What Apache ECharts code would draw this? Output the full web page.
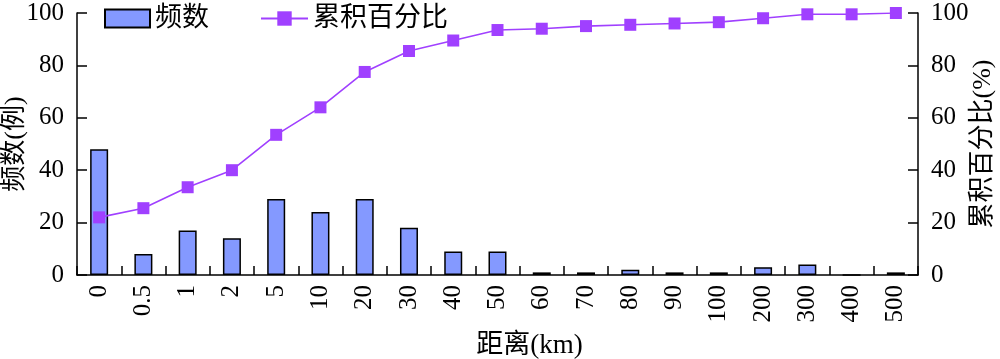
<!DOCTYPE html>
<html>
<head>
<meta charset="utf-8">
<script src="https://cdn.jsdelivr.net/npm/echarts@6/dist/echarts.min.js"></script>
<style>html,body{margin:0;padding:0;background:#fff}#c{width:1000px;height:359px}</style>
</head>
<body>
<div id="c"></div>
<script>
const categories = ['0','0.5','1','2','5','10','20','30','40','50','60','70','80','90','100','200','300','400','500'];
const frequency = [48, 8, 17, 14, 29, 24, 29, 18, 9, 9, 1, 1, 2, 1, 1, 3, 4, 0, 1];
const cumulativePercent = [22, 25.5, 33.5, 40, 53.5, 64, 77.5, 85.5, 89.5, 93.5, 94, 95, 95.5, 96, 96.5, 98, 99.5, 99.5, 100];
const yTicks = [0, 20, 40, 60, 80, 100];

const FONT = "'Liberation Serif', 'Times New Roman', 'Noto Sans CJK SC', serif";
const chart = echarts.init(document.getElementById('c'), null, {renderer: 'canvas'});
const axisCommon = {
  min: yTicks[0], max: yTicks[yTicks.length - 1], interval: yTicks[1] - yTicks[0],
  axisLine: {show: true, lineStyle: {color: '#000', width: 1.5}},
  axisTick: {show: true, inside: true, length: 10, lineStyle: {color: '#000', width: 1.5}},
  splitLine: {show: false},
  axisLabel: {color: '#000', fontSize: 25, fontFamily: FONT, margin: 13},
  nameLocation: 'middle',
  nameMoveOverlap: false,
  nameTextStyle: {color: '#000', fontSize: 26, fontFamily: FONT}
};
const legendText = {color: '#000', fontSize: 27, fontFamily: FONT};
chart.setOption({
  animation: false,
  grid: {left: 77, right: 82, top: 13, bottom: 84, containLabel: false, outerBoundsMode: 'none'},
  legend: [
    {left: 99, top: 0, itemWidth: 45, itemHeight: 18, itemGap: 8, textStyle: legendText,
     data: [{name: '频数', icon: 'rect'}]},
    {left: 255, top: 0, itemWidth: 47, itemHeight: 18, textStyle: legendText,
     data: ['累积百分比']}
  ],
  xAxis: {
    type: 'category', data: categories,
    name: '距离(km)', nameLocation: 'middle', nameGap: 57, nameMoveOverlap: false,
    nameTextStyle: {color: '#000', fontSize: 27, fontFamily: FONT, padding: [0, 0, 0, 64]},
    axisLine: {lineStyle: {color: '#000', width: 1.5}},
    axisTick: {show: true, inside: true, length: 9, alignWithLabel: false, lineStyle: {color: '#000', width: 1.5}},
    axisLabel: {rotate: 90, color: '#000', fontSize: 25, fontFamily: FONT, margin: 10, interval: 0},
    splitLine: {show: false}
  },
  yAxis: [
    Object.assign({}, axisCommon, {type: 'value', position: 'left', name: '频数(例)', nameGap: 49}),
    Object.assign({}, axisCommon, {type: 'value', position: 'right', name: '累积百分比(%)', nameGap: 52, nameRotate: 90})
  ],
  series: [
    {
      name: '频数', type: 'bar', data: frequency, barWidth: 18, yAxisIndex: 0,
      itemStyle: {color: '#8499FF', borderColor: '#000', borderWidth: 1.5}
    },
    {
      name: '累积百分比', type: 'line', data: cumulativePercent, yAxisIndex: 1,
      symbol: 'rect', symbolSize: 12,
      lineStyle: {color: '#A040FF', width: 1.6},
      itemStyle: {color: '#A040FF'}
    }
  ]
});
</script>
</body>
</html>
